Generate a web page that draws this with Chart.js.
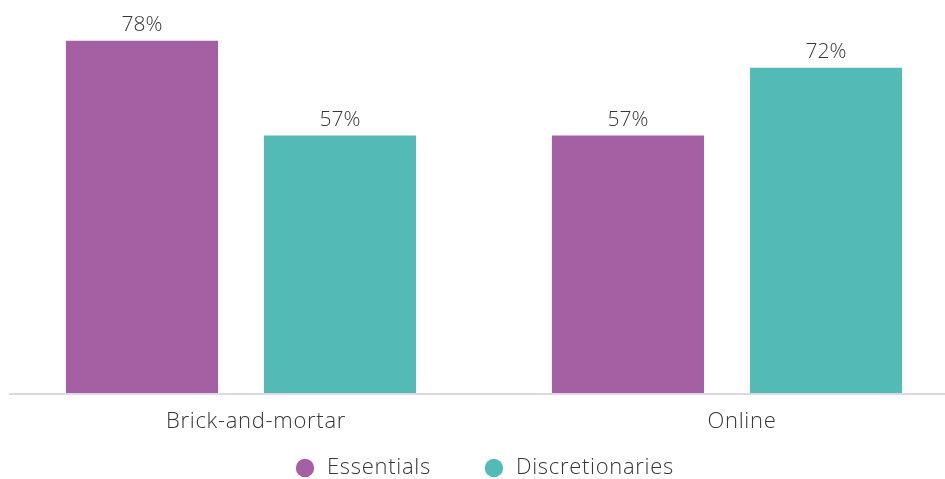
<!DOCTYPE html>
<html>
<head>
<meta charset="utf-8">
<script src="https://cdn.jsdelivr.net/npm/chart.js@4"></script>
<style>
  html, body { margin: 0; padding: 0; background: #fff; overflow: hidden; }
  #wrap { position: relative; width: 945px; height: 479px; overflow: hidden; }
  #chart { position: absolute; left: -2px; top: 0; }
</style>
</head>
<body>
<div id="wrap"><canvas id="chart" width="972" height="489"></canvas></div>
<script>
const channels = ["Brick-and-mortar", "Online"];
const essentials = [78, 57];
const discretionaries = [57, 72];

const purple = "#a55fa3";
const teal = "#53bab6";
const textColor = "#363636";
const fontFamily = "'Open Sans', Lato, sans-serif";
const fontSize = 22;
const tracking = "0.7px";

// slightly wider letter spacing for axis and legend text
const tracked = {
  id: "tracked",
  beforeLayout(chart) {
    chart.ctx.letterSpacing = tracking;
  },
  beforeDraw(chart) {
    chart.ctx.letterSpacing = tracking;
  },
};

// value labels above each bar
const valueLabels = {
  id: "valueLabels",
  afterDatasetsDraw(chart) {
    const ctx = chart.ctx;
    ctx.save();
    ctx.letterSpacing = "0px";
    ctx.font = `300 21px ${fontFamily}`;
    ctx.fillStyle = textColor;
    ctx.textAlign = "center";
    ctx.textBaseline = "alphabetic";
    chart.data.datasets.forEach((dataset, i) => {
      chart.getDatasetMeta(i).data.forEach((bar, j) => {
        ctx.fillText(`${dataset.data[j]}%`, bar.x, bar.y - 10);
      });
    });
    ctx.restore();
  },
};

// light baseline under the bars
const baseline = {
  id: "baseline",
  afterDatasetsDraw(chart) {
    const ctx = chart.ctx;
    const y = chart.scales.y.getPixelForValue(0) + 1;
    ctx.save();
    ctx.strokeStyle = "#dcd8e8";
    ctx.lineWidth = 2;
    ctx.beginPath();
    ctx.moveTo(11, y);
    ctx.lineTo(chart.width, y);
    ctx.stroke();
    ctx.restore();
  },
};

// the x axis is squeezed for layout; give its labels room again so they aren't clipped
const axisRoom = {
  id: "axisRoom",
  afterLayout(chart) {
    chart.scales.x.bottom = chart.scales.x.top + 50;
  },
};

new Chart(document.querySelector("#chart"), {
  type: "bar",
  data: {
    labels: channels,
    datasets: [
      { label: "Essentials", data: essentials, backgroundColor: purple },
      { label: "Discretionaries", data: discretionaries, backgroundColor: teal },
    ],
  },
  options: {
    responsive: false,
    animation: false,
    categoryPercentage: 0.815,
    barPercentage: 0.768,
    layout: { padding: 0 },
    plugins: {
      tooltip: { enabled: false },
      legend: {
        position: "bottom",
        labels: {
          usePointStyle: true,
          pointStyle: "circle",
          boxWidth: 29,
          boxHeight: 13,
          padding: 52,
          color: textColor,
          font: { family: fontFamily, size: fontSize, weight: 300 },
        },
      },
    },
    scales: {
      x: {
        grid: { display: false },
        border: { display: false },
        ticks: {
          color: textColor,
          padding: 8,
          labelOffset: 15,
          font: { family: fontFamily, size: fontSize, weight: 300 },
        },
        afterFit(scale) {
          scale.height = 12;
        },
      },
      y: {
        display: false,
        min: 0,
        max: 87,
      },
    },
  },
  plugins: [tracked, axisRoom, baseline, valueLabels],
});
</script>
</body>
</html>
